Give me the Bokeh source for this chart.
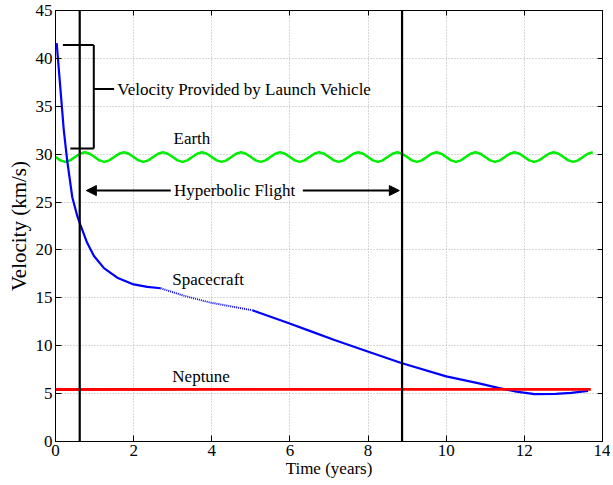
import numpy as np
from bokeh.plotting import figure
from bokeh.models import (ColumnDataSource, Arrow, NormalHead, FixedTicker,
                          LinearAxis, Range1d, Title)
from bokeh.core.properties import value
from bokeh.embed import file_html
from bokeh.resources import INLINE

# ---------------- data ----------------
# Spacecraft velocity (km/s) vs time (years): solid early part
sc1_t = [0.03, 0.13, 0.21, 0.3, 0.43, 0.56, 0.64, 0.81, 0.98, 1.24, 1.58, 2.0, 2.35, 2.69]
sc1_v = [41.6, 36.6, 32.6, 29.3, 25.5, 23.5, 22.6, 20.75, 19.4, 18.1, 17.1, 16.4, 16.15, 16.0]
# dotted gap
sc2_t = [2.69, 3.3, 3.97, 4.5, 5.04]
sc2_v = [16.0, 15.2, 14.5, 14.1, 13.7]
# solid late part
sc3_t = [5.04, 5.94, 6.54, 7.14, 7.99, 8.85, 10.0, 10.81, 11.33, 11.8, 12.26, 12.8, 13.2, 13.63]
sc3_v = [13.7, 12.4, 11.5, 10.6, 9.4, 8.2, 6.8, 6.1, 5.6, 5.2, 4.95, 4.98, 5.08, 5.28]

# Earth velocity sampled every 1/8 year
earth_t = list(np.arange(0, 13.76, 0.125))
earth_v = [29.7, 29.35, 29.2, 29.35, 29.7, 30.05, 30.2, 30.05,
           29.7, 29.35, 29.2, 29.35, 29.7, 30.05, 30.2, 30.05,
           29.7, 29.35, 29.2, 29.35, 29.7, 30.05, 30.2, 30.05,
           29.7, 29.35, 29.2, 29.35, 29.7, 30.05, 30.2, 30.05,
           29.7, 29.35, 29.2, 29.35, 29.7, 30.05, 30.2, 30.05,
           29.7, 29.35, 29.2, 29.35, 29.7, 30.05, 30.2, 30.05,
           29.7, 29.35, 29.2, 29.35, 29.7, 30.05, 30.2, 30.05,
           29.7, 29.35, 29.2, 29.35, 29.7, 30.05, 30.2, 30.05,
           29.7, 29.35, 29.2, 29.35, 29.7, 30.05, 30.2, 30.05,
           29.7, 29.35, 29.2, 29.35, 29.7, 30.05, 30.2, 30.05,
           29.7, 29.35, 29.2, 29.35, 29.7, 30.05, 30.2, 30.05,
           29.7, 29.35, 29.2, 29.35, 29.7, 30.05, 30.2, 30.05,
           29.7, 29.35, 29.2, 29.35, 29.7, 30.05, 30.2, 30.05,
           29.7, 29.35, 29.2, 29.35, 29.7, 30.05, 30.2]

# Neptune velocity
nep_t = [0.0, 13.7]
nep_v = [5.43, 5.45]

# hyperbolic flight boundaries (years)
hyper_t = [0.62, 8.87]

# launch-vehicle bracket
bracket_x0 = [0.19, 0.98, 0.38, 0.98]
bracket_y0 = [41.4, 41.4, 30.6, 36.8]
bracket_x1 = [0.98, 0.98, 0.98, 1.5]
bracket_y1 = [41.4, 30.6, 30.6, 36.8]

# arrows for "Hyperbolic Flight"
arrow_x_start = [2.95, 6.33]
arrow_x_end = [0.79, 8.8]
arrow_y = [26.2, 26.2]

# text annotations
label_text = ["Velocity Provided by Launch Vehicle", "Earth", "Hyperbolic Flight",
              "Spacecraft", "Neptune"]
label_x = [1.58, 3.02, 3.03, 2.99, 2.99]
label_y = [36.8, 31.6, 26.2, 16.9, 6.8]

x_ticks = [0, 2, 4, 6, 8, 10, 12, 14]
y_ticks = [0, 5, 10, 15, 20, 25, 30, 35, 40, 45]

x_title = "Time (years)"
y_title = "Velocity (km/s)"

FONT = "'Liberation Serif', 'Times New Roman', serif"

# ---------------- figure ----------------
p = figure(frame_width=547, frame_height=431, output_backend="svg",
           toolbar_location=None, x_range=Range1d(0, 14), y_range=Range1d(0, 45),
           min_border_left=55, min_border_top=10, min_border_right=8,
           min_border_bottom=42)
p.background_fill_color = "white"
p.border_fill_color = "white"
p.outline_line_color = "black"
p.outline_line_width = 1

for ax in (p.xaxis[0], p.yaxis[0]):
    ax.major_label_text_font = FONT
    ax.major_label_text_font_size = "17px"
    ax.major_label_text_color = "black"
    ax.axis_label_text_font = FONT
    ax.axis_label_text_font_size = "17px"
    ax.axis_label_text_font_style = "normal"
    ax.axis_label_text_color = "black"
    ax.major_tick_in = 6
    ax.major_tick_out = 0
    ax.minor_tick_line_color = None
    ax.axis_line_color = "black"
    ax.major_tick_line_color = "black"
    ax.major_label_standoff = 3

p.xaxis[0].ticker = FixedTicker(ticks=x_ticks)
p.yaxis[0].ticker = FixedTicker(ticks=y_ticks)
p.xaxis[0].axis_label = x_title
p.xaxis[0].axis_label_standoff = 0

for loc, tk in (("right", y_ticks), ("above", x_ticks)):
    ax = LinearAxis(ticker=FixedTicker(ticks=tk), major_label_text_font_size="1px",
                    major_label_text_color=None,
                    major_tick_in=5, major_tick_out=0, minor_tick_line_color=None,
                    axis_line_color="black", major_tick_line_color="black",
                    major_label_standoff=0)
    p.add_layout(ax, loc)

p.xgrid.ticker = FixedTicker(ticks=x_ticks)
p.ygrid.ticker = FixedTicker(ticks=y_ticks)
for g in (p.xgrid[0], p.ygrid[0]):
    g.grid_line_color = "#b0b0b0"
    g.grid_line_dash = "1 2"
    g.grid_line_width = 1

# curves
p.line(earth_t, earth_v, line_color="#00ee00", line_width=2.5)
p.line(sc1_t, sc1_v, line_color="#0000ff", line_width=2.2)
p.line(sc2_t, sc2_v, line_color="#0000ff", line_width=2, line_dash="1 1")
p.line(sc3_t, sc3_v, line_color="#0000ff", line_width=2.2)
p.line(nep_t, nep_v, line_color="#ff0000", line_width=2.8)

# vertical boundaries
p.segment(x0=hyper_t, y0=[0] * len(hyper_t), x1=hyper_t, y1=[45] * len(hyper_t),
          line_color="black", line_width=2.2)

# bracket
p.segment(x0=bracket_x0, y0=bracket_y0, x1=bracket_x1, y1=bracket_y1,
          line_color="black", line_width=2)

# arrows
arrow_src = ColumnDataSource(dict(x_start=arrow_x_start, x_end=arrow_x_end,
                                  y_start=arrow_y, y_end=arrow_y))
p.add_layout(Arrow(source=arrow_src, x_start="x_start", y_start="y_start",
                   x_end="x_end", y_end="y_end", line_width=2, line_color="black",
                   end=NormalHead(size=10, fill_color="black", line_color="black")))

# text labels
p.text(x=label_x, y=label_y, text=label_text, text_font=value(FONT),
       text_font_size="17px", text_color="black", text_align="left",
       text_baseline="middle")

# y-axis title (placed like the reference, slightly below the axis centre)
p.add_layout(Title(text=y_title, align="center", offset=-50, standoff=4,
                   text_font=FONT, text_font_size="21px",
                   text_font_style="normal", text_color="black"), "left")

open("out.html", "w").write(file_html(p, INLINE))
